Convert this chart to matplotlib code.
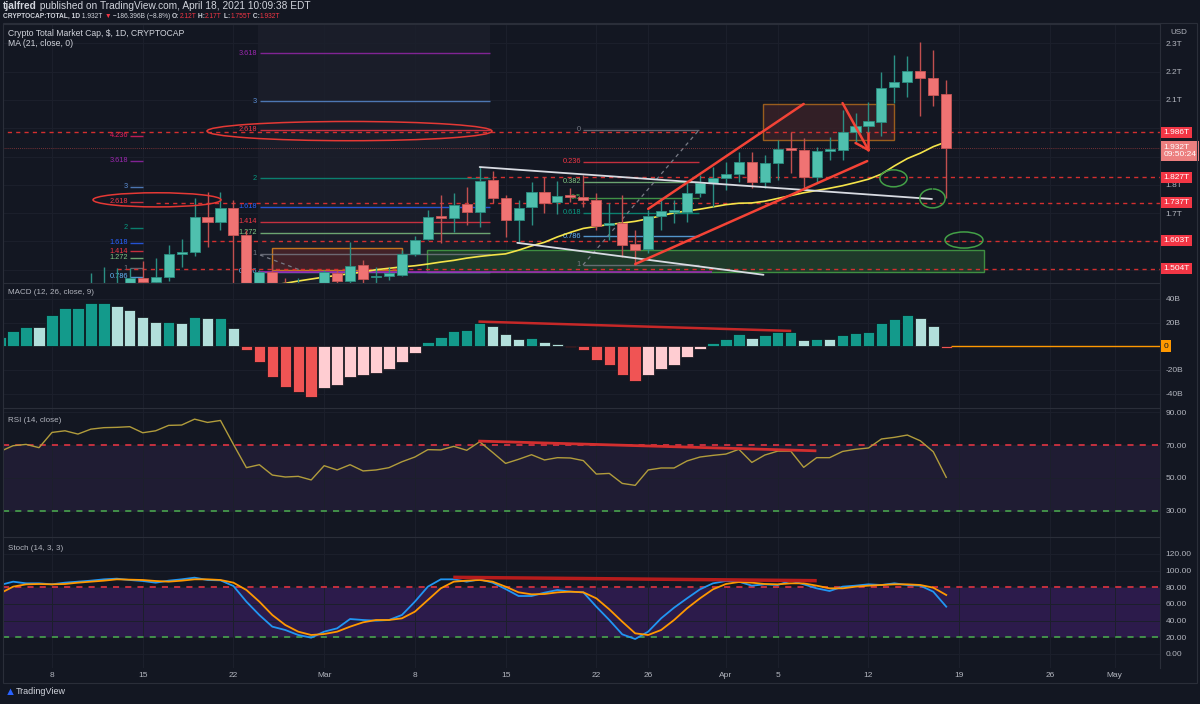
import numpy as np
import pandas as pd
import matplotlib
matplotlib.use("Agg")
import matplotlib.pyplot as plt
import matplotlib.transforms as mtrans
from matplotlib.patches import Rectangle, Ellipse, Arc

plt.rcParams['font.family'] = ['Liberation Sans', 'DejaVu Sans']

W, H = 1200, 704
BG = '#131722'
TXT = '#b2b5be'
GRID = '#1c202c'
BASE = pd.Timestamp('2021-02-01')


def dx(s):
    return (pd.Timestamp(s) - BASE).days


# ---------------- data ----------------
# daily candles, total crypto market cap in trillions of USD
candle_start = '2021-02-11'
opens = [1.38, 1.42, 1.44, 1.45, 1.471, 1.455, 1.475, 1.556, 1.563, 1.687, 1.669, 1.718, 1.623, 1.40,
         1.492, 1.43, 1.41, 1.42,
         1.38, 1.489, 1.460, 1.517, 1.473, 1.478, 1.482, 1.556, 1.609, 1.686, 1.683, 1.733, 1.704, 1.817,
         1.754, 1.676, 1.722, 1.775, 1.740, 1.762, 1.757, 1.747, 1.658, 1.665, 1.591, 1.573, 1.690, 1.704,
         1.704, 1.771, 1.807,
         1.824, 1.839, 1.881, 1.810, 1.877, 1.927, 1.923, 1.828, 1.920, 1.923, 1.987, 2.008, 2.022, 2.146,
         2.164, 2.202, 2.178, 2.12]
highs = [1.489, 1.51, 1.506, 1.506, 1.53, 1.54, 1.588, 1.609, 1.754, 1.775, 1.775, 1.747, 1.64, 1.50,
         1.52, 1.47, 1.47, 1.44,
         1.50, 1.50, 1.598, 1.535, 1.51, 1.51, 1.570, 1.62, 1.711, 1.764, 1.771, 1.793, 1.863, 1.849,
         1.764, 1.747, 1.810, 1.828, 1.814, 1.790, 1.835, 1.771, 1.736, 1.764, 1.641, 1.711, 1.754, 1.747,
         1.807, 1.835, 1.863,
         1.881, 1.916, 1.916, 1.905, 1.959, 1.987, 1.966, 1.934, 1.970, 2.065, 2.054, 2.093, 2.199, 2.259,
         2.255, 2.305, 2.277, 2.17]
lows = [1.35, 1.39, 1.40, 1.43, 1.42, 1.44, 1.46, 1.51, 1.55, 1.58, 1.64, 1.45, 1.33, 1.37,
        1.40, 1.36, 1.39, 1.32,
        1.37, 1.44, 1.45, 1.45, 1.43, 1.465, 1.478, 1.55, 1.605, 1.595, 1.634, 1.658, 1.651, 1.736,
        1.616, 1.598, 1.658, 1.700, 1.697, 1.740, 1.720, 1.641, 1.605, 1.545, 1.517, 1.559, 1.641, 1.665,
        1.669, 1.757, 1.722,
        1.782, 1.810, 1.789, 1.790, 1.817, 1.842, 1.789, 1.810, 1.888, 1.888, 1.952, 1.976, 1.973, 2.089,
        2.111, 2.043, 2.079, 1.755]
closes = [1.42, 1.44, 1.45, 1.471, 1.455, 1.475, 1.556, 1.563, 1.687, 1.669, 1.718, 1.623, 1.40, 1.492,
          1.43, 1.41, 1.42, 1.38,
          1.492, 1.460, 1.513, 1.467, 1.478, 1.489, 1.556, 1.605, 1.687, 1.683, 1.729, 1.704, 1.814, 1.754,
          1.676, 1.718, 1.775, 1.736, 1.761, 1.758, 1.747, 1.655, 1.665, 1.588, 1.570, 1.690, 1.708, 1.708,
          1.771, 1.807, 1.824,
          1.839, 1.881, 1.810, 1.877, 1.927, 1.923, 1.828, 1.920, 1.923, 1.987, 2.008, 2.026, 2.142, 2.164,
          2.202, 2.178, 2.118, 1.932]

# MA (21, close) as drawn
ma_start = '2021-02-25'
ma21 = [1.445, 1.452, 1.460, 1.467,
        1.474, 1.480, 1.486, 1.492, 1.500, 1.505, 1.510, 1.514, 1.520, 1.527, 1.533, 1.541, 1.547, 1.552,
        1.556, 1.569, 1.584, 1.597, 1.616, 1.632, 1.646, 1.653, 1.660, 1.665, 1.671, 1.680, 1.691, 1.701,
        1.708, 1.714, 1.722,
        1.730, 1.735, 1.736, 1.742, 1.752, 1.762, 1.772, 1.780, 1.788, 1.797, 1.808, 1.820, 1.838, 1.867,
        1.893, 1.912, 1.935, 1.952]

# indicator panes, daily from Feb 4
ind_start = '2021-02-04'
macd_hist = [7.6, 13.2, 16.6, 16.5, 26.5, 32.1, 32.7, 36.1, 36.6, 34.1, 31.0, 25.1, 20.3, 20.8, 19.4,
             24.5, 23.9, 24.2, 15.8, -2.8, -13.5, -25.9, -34.6, -38.9, -42.5, -35.5, -32.4, -26.2, -24.5,
             -22.8, -19.4, -13.2, -5.9, 3.7, 8.2, 13.2, 13.8, 20.0, 17.5, 10.1, 6.5, 6.8, 3.4, 2.0, -0.6,
             -3.1, -11.5, -16.1, -24.2, -29.3, -24.2, -18.9, -15.8, -8.7, -2.3, 2.8, 5.9, 10.4, 7.3, 9.3,
             12.1, 12.4, 5.4, 5.9, 5.8, 9.3, 11.0, 12.1, 19.4, 22.8, 26.2, 24.2, 17.2, -1.4]
rsi = [66.1, 69.6, 70.4, 68.4, 77.7, 78.7, 76.7, 79.7, 80.6, 80.8, 81.2, 77.5, 78.7, 82.0, 82.2, 85.8,
       83.8, 85.0, 70.4, 56.2, 58.0, 51.7, 50.5, 50.9, 48.7,
       57.4, 54.8, 58.0, 54.2, 54.8, 56.2, 59.8, 62.7, 67.2, 67.0, 69.2, 66.8, 72.0, 65.5, 58.8, 61.3,
       64.1, 60.9, 62.3, 62.1, 60.5, 52.3, 52.7, 46.6, 45.4, 54.8, 56.0, 56.0, 60.3, 62.7, 63.7,
       64.5, 67.4, 59.4, 63.9, 66.3, 66.3, 56.4, 62.3, 62.3, 66.1, 67.4, 68.2, 73.7, 74.7, 76.1, 72.6,
       65.9, 50.3]
stoch_k = [82.8, 86.8, 84.8, 84.8, 83.6, 85.6, 86.8, 88.0, 89.6, 90.4, 88.8, 87.6, 85.6, 88.0, 89.6,
           91.6, 88.8, 88.4, 81.6, 62.8, 46.8, 32.8, 28.8, 22.8, 19.6, 26.8, 30.8, 42.0, 40.8, 40.0,
           40.8, 46.8, 62.8, 80.8, 89.6, 89.6, 86.8, 89.6, 85.6, 78.0, 69.6, 69.6, 73.6, 76.8, 74.8,
           74.0, 56.8, 40.8, 23.6, 18.0, 26.8, 42.8, 55.6, 66.8, 77.6, 84.8, 87.6, 86.8, 82.0, 83.6,
           82.8, 88.0, 83.6, 78.8, 75.6, 80.8, 82.0, 83.6, 82.8, 84.8, 82.8, 82.0, 74.8, 56.8]
stoch_d = [72.8, 80.8, 83.6, 84.0, 83.6, 84.0, 85.6, 86.8, 88.0, 89.6, 89.2, 88.8, 87.6, 86.8, 88.0,
           89.6, 89.6, 88.8, 85.6, 76.8, 62.8, 46.8, 34.8, 26.8, 22.8, 24.0, 26.8, 32.8, 38.0, 40.8,
           40.8, 42.8, 50.8, 64.8, 78.8, 86.8, 88.0, 88.8, 86.8, 80.8, 74.0, 71.6, 72.0, 74.0, 74.8,
           74.0, 66.8, 53.6, 38.8, 24.8, 22.8, 28.8, 40.8, 54.8, 66.8, 77.6, 84.0, 86.4, 85.6, 84.0,
           83.6, 84.8, 84.8, 82.0, 78.8, 78.8, 80.8, 82.0, 82.8, 83.6, 83.6, 82.8, 79.6, 70.8]

# horizontal alert levels (price, drawn from date)
alert_prices = [1.986, 1.827, 1.737, 1.603, 1.504]
alert_from = ['2021-02-03', '2021-03-12', '2021-02-16', '2021-02-19', '2021-02-13']
last_close = 1.932
last_time = '09:50:24'

# price axis labels that are not hidden behind the tags
price_ticks = [1.5, 1.6, 1.7, 1.8, 1.9, 2.0, 2.1, 2.2, 2.3]
price_tick_lbl = ['', '', '1.7T', '1.8T', '', '', '2.1T', '2.2T', '2.3T']

# fib extensions / retracement (label, price)
fib_a = [('4.236', 1.973), ('3.618', 1.886), ('3', 1.794), ('2.618', 1.740), ('2', 1.648),
         ('1.618', 1.595), ('1.414', 1.566), ('1.272', 1.542), ('1', 1.506), ('0.786', 1.475)]
fib_b = [('3.618', 2.266), ('3', 2.096), ('2.618', 1.994), ('2', 1.824), ('1.618', 1.723),
         ('1.414', 1.669), ('1.272', 1.630), ('1', 1.556), ('0.786', 1.492)]
fib_c = [('0', 1.994), ('0.236', 1.881), ('0.382', 1.811), ('0.5', 1.755), ('0.618', 1.702),
         ('0.786', 1.619), ('1', 1.517)]
fib_colors = {'0': '#787b86', '0.236': '#f23645', '0.382': '#81c784', '0.5': '#4caf50',
              '0.618': '#089981', '0.786': '#64b5f6', '1': '#787b86', '1.272': '#81c784',
              '1.414': '#f23645', '1.618': '#2962ff', '2': '#089981', '2.618': '#f23645',
              '3': '#5b8fd6', '3.618': '#9c27b0', '4.236': '#e91e63'}

# hand drawn lines (days since Feb 1, price)
white_lines = [((40.0, 1.863), (74.9, 1.750)), ((42.9, 1.595), (61.9, 1.482))]
red_lines = [((53.0, 1.715), (65.0, 2.086)), ((52.0, 1.520), (69.9, 1.884)),
             ((68.0, 2.089), (70.0, 1.923)), ((69.0, 1.948), (70.0, 1.923)), ((70.0, 1.983), (70.0, 1.923))]

# ---------------- layout helpers ----------------
fig = plt.figure(figsize=(12, 7.04), dpi=100, facecolor=BG)


def rect(x0, y0, x1, y1):
    return [x0 / W, 1 - y1 / H, (x1 - x0) / W, (y1 - y0) / H]


def px_day(x):
    return 7 + (x - 52) / 12.96


XL = (px_day(3), px_day(1160))
xtick_days = [dx(s) for s in ['2021-02-08', '2021-02-15', '2021-02-22', '2021-03-01', '2021-03-08',
                               '2021-03-15', '2021-03-22', '2021-03-26', '2021-04-01', '2021-04-05',
                               '2021-04-12', '2021-04-19', '2021-04-26', '2021-05-01']]
xtick_lbl = ['8', '15', '22', 'Mar', '8', '15', '22', '26', 'Apr', '5', '12', '19', '26', 'May']


def setup(ax, ylim, ticks, labels):
    ax.set_facecolor(BG)
    ax.set_xlim(XL)
    ax.set_ylim(ylim)
    ax.set_xticks(xtick_days)
    ax.tick_params(axis='x', length=0, labelbottom=False)
    ax.yaxis.tick_right()
    ax.set_yticks(ticks)
    ax.set_yticklabels(labels)
    ax.tick_params(axis='y', length=0, pad=4, labelsize=6, labelcolor=TXT)
    ax.grid(True, color=GRID, lw=0.7)
    ax.set_axisbelow(True)
    for s in ['left', 'bottom']:
        ax.spines[s].set_visible(False)
    for s in ['top', 'right']:
        ax.spines[s].set_color('#2a2e39')


ax_p = fig.add_axes(rect(3, 24, 1160, 283))
ax_m = fig.add_axes(rect(3, 283, 1160, 408))
ax_r = fig.add_axes(rect(3, 408, 1160, 537))
ax_s = fig.add_axes(rect(3, 537, 1160, 668))

setup(ax_p, (1.453, 2.3686), price_ticks, price_tick_lbl)
setup(ax_m, (-52.1, 53.4), [-40, -20, 0, 20, 40], ['-40B', '-20B', '', '20B', '40B'])
setup(ax_r, (13.9, 92.6), [30, 50, 70, 90], ['30.00', '50.00', '70.00', '90.00'])
setup(ax_s, (-16.8, 140.4), [0, 20, 40, 60, 80, 100, 120],
      ['0.00', '20.00', '40.00', '60.00', '80.00', '100.00', '120.00'])
ax_s.tick_params(axis='x', labelbottom=True, labelsize=6, labelcolor=TXT, pad=3)
ax_s.set_xticklabels(xtick_lbl)

# ---------------- price pane ----------------
ax = ax_p
ax.axvspan(px_day(258), px_day(490), color='#1a1d29', zorder=0.5, lw=0)

# fib tools
for lab, p in fib_a:
    col = fib_colors[lab]
    ax.hlines(p, px_day(130), px_day(143), color=col, lw=1, alpha=0.8, zorder=2)
    ax.text(px_day(128), p, lab, color=col, fontsize=5.3, ha='right', va='center', zorder=2)
for lab, p in fib_b:
    col = fib_colors[lab]
    ax.hlines(p, px_day(260), px_day(490), color=col, lw=1, alpha=0.8, zorder=2)
    ax.text(px_day(257), p, lab, color=col, fontsize=5.3, ha='right', va='center', zorder=2)
for lab, p in fib_c:
    col = fib_colors[lab]
    ax.hlines(p, px_day(583), px_day(699), color=col, lw=1, alpha=0.8, zorder=2)
    ax.text(px_day(581), p, lab, color=col, fontsize=5.3, ha='right', va='center', zorder=2)
ax.plot([px_day(583), px_day(699)], [1.517, 1.994], color='#787b86', lw=0.9, ls=(0, (3, 3)), zorder=2)
ax.plot([px_day(260), px_day(300)], [1.552, 1.499], color='#787b86', lw=0.9, ls=(0, (3, 3)), zorder=2)

# boxes
ax.add_patch(Rectangle((px_day(272), 1.499), px_day(402) - px_day(272), 0.078,
                       fc='#4a2228', ec='#e0851f', lw=1, alpha=0.85, zorder=1.5))
ax.add_patch(Rectangle((px_day(763), 1.959), px_day(894) - px_day(763), 0.127,
                       fc='#3a2228', ec='#b86e1c', lw=1, alpha=0.8, zorder=1.5))
ax.add_patch(Rectangle((px_day(427), 1.493), px_day(984) - px_day(427), 0.077,
                       fc='#1f3a2a', ec='#3e8e41', lw=1, zorder=1.5))
ax.hlines(1.492, px_day(258), px_day(712), color='#9c27b0', lw=1.2, zorder=2)

# alert levels and last price line
for p, f in zip(alert_prices, alert_from):
    ax.hlines(p, dx(f), XL[1], color='#d32f2f', lw=1, ls=(0, (3, 3)), zorder=2.2)
ax.hlines(last_close, XL[0], XL[1], color='#ef5350', lw=0.6, ls=(0, (1, 1.5)), alpha=0.6, zorder=2.2)

# MA
x_ma = dx(ma_start) + np.arange(len(ma21))
ax.plot(x_ma, ma21, color='#f5e44a', lw=1.2, zorder=3)

# candles
o, h, l, c = map(np.array, (opens, highs, lows, closes))
x_c = dx(candle_start) + np.arange(len(o))
up = c >= o
ax.vlines(x_c, l, h, colors=np.where(up, '#2b8f83', '#c14f4f'), lw=1, zorder=4)
ax.bar(x_c, np.maximum(np.abs(c - o), 0.006), bottom=np.minimum(o, c), width=0.78,
       color=np.where(up, '#4fc0ae', '#f07373'), edgecolor=np.where(up, '#2a8d80', '#c75555'),
       lw=0.6, zorder=5)

# drawings
for (a, b) in white_lines:
    ax.plot([a[0], b[0]], [a[1], b[1]], color='#d8dbe2', lw=1.3, zorder=6, solid_capstyle='round')
for (a, b) in red_lines:
    ax.plot([a[0], b[0]], [a[1], b[1]], color='#f44336', lw=1.8, zorder=6, solid_capstyle='round')
ax.add_patch(Ellipse((px_day(349.5), 1.990), px_day(492) - px_day(207), 0.068,
                     fill=False, ec='#e53935', lw=1.1, zorder=6))
ax.add_patch(Ellipse((px_day(157), 1.747), px_day(221) - px_day(93), 0.05,
                     fill=False, ec='#e53935', lw=1.1, zorder=6))
ax.add_patch(Ellipse((px_day(893.5), 1.823), 2.1, 0.06, fill=False, ec='#43a047', lw=1.1, zorder=6))
ax.add_patch(Arc((px_day(932.5), 1.752), 1.95, 0.067, theta1=110, theta2=400,
                 ec='#43a047', lw=1.1, zorder=6))
ax.add_patch(Ellipse((px_day(964), 1.605), 2.93, 0.057, fill=False, ec='#43a047', lw=1.1, zorder=6))

# right axis tags
bl = mtrans.blended_transform_factory(ax.transAxes, ax.transData)
for p in alert_prices:
    ax.text(1.003, p, f'{p:.3f}T', transform=bl, color='white', fontsize=6, va='center', ha='left',
            bbox=dict(boxstyle='square,pad=0.25', fc='#f23645', ec='none'), clip_on=False, zorder=10)
ax.text(1.003, last_close - 0.012, f'{last_close:.3f}T\n{last_time}', transform=bl, color='white',
        fontsize=6, va='center', ha='left', linespacing=1.1,
        bbox=dict(boxstyle='square,pad=0.3', fc='#ec7f7f', ec='none'), clip_on=False, zorder=10)

# ---------------- MACD pane ----------------
x_i = dx(ind_start) + np.arange(len(macd_hist))
hist = np.array(macd_hist)
prev = np.r_[hist[0], hist[:-1]]
cols = np.where(hist >= 0, np.where(hist >= prev, '#139a8b', '#b2dfdb'),
                np.where(hist < prev, '#f05454', '#ffcdd2'))
ax_m.bar(x_i, hist, width=0.88, color=cols, edgecolor='#0b0e15', lw=0.5, zorder=3)
ax_m.hlines(0, x_i[-1] + 0.4, XL[1], color='#ff9800', lw=1, zorder=3)
ax_m.plot([dx('2021-03-13'), px_day(790)], [20.8, 13.0], color='#c62828', lw=1.8, zorder=4)
blm = mtrans.blended_transform_factory(ax_m.transAxes, ax_m.transData)
ax_m.text(1.003, 0, '0', transform=blm, color='#131722', fontsize=6, va='center', ha='left',
          bbox=dict(boxstyle='square,pad=0.3', fc='#ff9800', ec='none'), clip_on=False, zorder=10)

# ---------------- RSI pane ----------------
ax_r.axhspan(30, 70, color='#1f1c33', lw=0, zorder=0.5)
ax_r.axhline(70, color='#f23645', lw=1.1, ls=(0, (4, 4)), zorder=2)
ax_r.axhline(30, color='#4caf50', lw=1.1, ls=(0, (4, 4)), zorder=2)
ax_r.plot(x_i, rsi, color='#b19c3c', lw=1, zorder=3)
ax_r.plot([dx('2021-03-13'), px_day(815)], [72.4, 66.5], color='#d32f2f', lw=2, zorder=4)

# ---------------- Stoch pane ----------------
ax_s.axhspan(20, 80, color='#2c1b4b', lw=0, zorder=0.5)
ax_s.axhline(80, color='#f23645', lw=1.1, ls=(0, (4, 4)), zorder=2)
ax_s.axhline(20, color='#4caf50', lw=1.1, ls=(0, (4, 4)), zorder=2)
ax_s.plot(x_i, stoch_k, color='#2196f3', lw=1.3, zorder=3)
ax_s.plot(x_i, stoch_d, color='#ff9800', lw=1.3, zorder=3)
ax_s.plot([px_day(455), px_day(815)], [92, 88], color='#b71c1c', lw=2.5, zorder=4)

# ---------------- texts ----------------
def fpx(x, y):
    return x / W, 1 - y / H


rend = fig.canvas.get_renderer()


def run_text(x, y, pieces, size):
    for s, col, wt in pieces:
        t = fig.text(*fpx(x, y), s, color=col, fontsize=size, fontweight=wt, va='center', ha='left')
        x += t.get_window_extent(renderer=rend).width


LT = '#d1d4dc'
RED = '#f23645'
run_text(3, 6, [('tjalfred', LT, 'bold'),
                (' published on TradingView.com, April 18, 2021 10:09:38 EDT', LT, 'normal')], 7.3)
run_text(3, 16.5, [('CRYPTOCAP:TOTAL, 1D', LT, 'bold'), (' 1.932T ', LT, 'normal'), ('\u25bc', RED, 'normal'),
                   (' \u2212186.396B (\u22128.8%) ', LT, 'normal'), ('O:', LT, 'bold'), ('2.12T', RED, 'normal'),
                   (' H:', LT, 'bold'), ('2.17T', RED, 'normal'), (' L:', LT, 'bold'), ('1.755T', RED, 'normal'),
                   (' C:', LT, 'bold'), ('1.932T', RED, 'normal')], 4.8)
fig.text(*fpx(8, 33), 'Crypto Total Market Cap, $, 1D, CRYPTOCAP', color=LT, fontsize=6.2, va='center')
fig.text(*fpx(8, 43), 'MA (21, close, 0)', color=LT, fontsize=6.2, va='center')
fig.text(*fpx(8, 292), 'MACD (12, 26, close, 9)', color=TXT, fontsize=5.8, va='center')
fig.text(*fpx(8, 420), 'RSI (14, close)', color=TXT, fontsize=5.8, va='center')
fig.text(*fpx(8, 549), 'Stoch (14, 3, 3)', color=TXT, fontsize=5.8, va='center')
fig.text(*fpx(1170, 33), 'USD', color=TXT, fontsize=5.8, va='center')
fig.text(*fpx(5, 692), '\u25b2', color='#2962ff', fontsize=8, va='center')
fig.text(*fpx(16, 692), 'TradingView', color=LT, fontsize=6.5, va='center')

fig.add_artist(Rectangle((3 / W, 1 - 683 / H), 1194 / W, 660 / H, transform=fig.transFigure,
                         fill=False, ec='#2a2e39', lw=0.8))

plt.savefig('out.png', dpi=100, facecolor=BG)
